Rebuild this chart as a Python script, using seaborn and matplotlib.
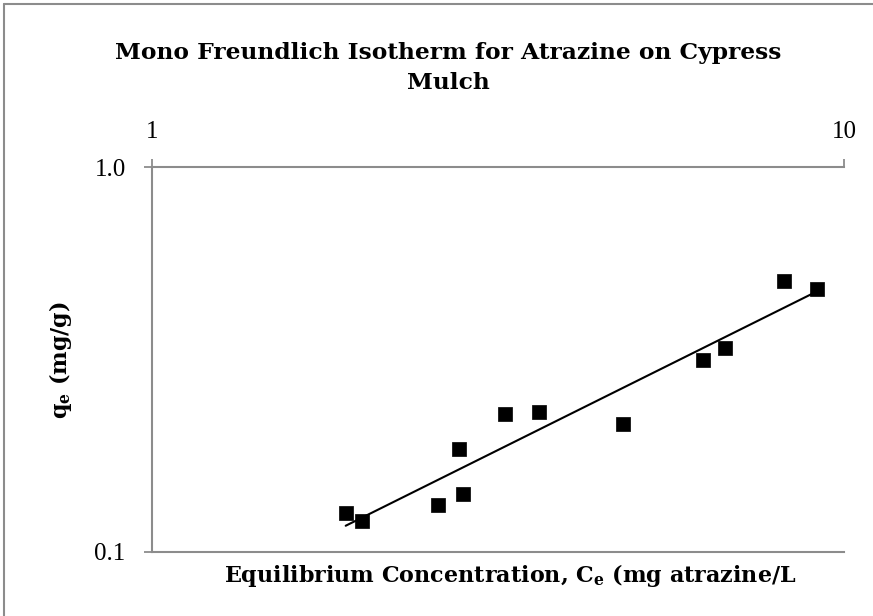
import numpy as np
import pandas as pd
import matplotlib
matplotlib.use("Agg")
import matplotlib.pyplot as plt
import seaborn as sns
from matplotlib.lines import Line2D

# ---- data ----
ce = [1.905, 2.010, 2.593, 2.818, 2.777, 3.234, 3.625, 4.798, 6.261, 6.724, 8.190, 9.141]
qe = [0.1265, 0.1206, 0.1327, 0.1415, 0.1855, 0.2287, 0.2311, 0.2150, 0.3152, 0.3388, 0.5066, 0.4822]
x_ticks = [1, 10]
x_ticklabels = ["1", "10"]
y_ticks = [0.1, 1.0]
y_ticklabels = ["0.1", "1.0"]

title_line1 = "Mono Freundlich Isotherm for Atrazine on Cypress"
title_line2 = "Mulch"
xlabel = "Equilibrium Concentration, C$_\\mathregular{e}$ (mg atrazine/L"
ylabel = "q$_\\mathregular{e}$ (mg/g)"

df = pd.DataFrame({"Ce": ce, "qe": qe})

# power-law (Freundlich) trendline fitted to the data
slope, intercept = np.polyfit(np.log10(df["Ce"]), np.log10(df["qe"]), 1)
fit_x = np.array([df["Ce"].min(), df["Ce"].max()])
fit_df = pd.DataFrame({"Ce": fit_x, "qe": 10 ** (intercept + slope * np.log10(fit_x))})

sns.set_theme(style="white")
plt.rcParams["font.family"] = ["Liberation Serif", "DejaVu Serif"]
plt.rcParams["mathtext.fontset"] = "custom"
plt.rcParams["mathtext.rm"] = "DejaVu Serif:bold"

fig = plt.figure(figsize=(8.73, 6.16), dpi=100)
ax = fig.add_axes([152 / 873, (616 - 552) / 616, 692 / 873, 385 / 616])

ax.set_xscale("log")
ax.set_yscale("log")

sns.lineplot(data=fit_df, x="Ce", y="qe", ax=ax, color="black", linewidth=1.5, zorder=2)
sns.scatterplot(data=df, x="Ce", y="qe", ax=ax, marker="s", s=115, color="black",
                edgecolor="black", linewidth=0.5, zorder=3)

ax.set_xlim(1, 10)
ax.set_ylim(0.1, 1.0)

grey = "#8c8c8c"
ax.xaxis.set_ticks_position("top")
ax.set_xticks(x_ticks)
ax.set_xticklabels(x_ticklabels)
ax.set_yticks(y_ticks)
ax.set_yticklabels(y_ticklabels)
ax.minorticks_off()
ax.tick_params(axis="x", which="major", direction="out", length=6, width=1.3, color=grey,
               pad=11, labelsize=18, labelcolor="black", top=True, bottom=False)
ax.tick_params(axis="y", which="major", direction="out", length=6, width=1.3, color=grey,
               pad=13, labelsize=18, labelcolor="black", left=True)

for side in ["top", "left", "bottom"]:
    ax.spines[side].set_visible(True)
    ax.spines[side].set_color(grey)
    ax.spines[side].set_linewidth(1.5)
ax.spines["right"].set_visible(False)

ax.set_xlabel("")
ax.set_ylabel("")

bold_serif = dict(family=["DejaVu Serif"], fontweight="bold", color="black")
fig.text(448 / 873, 1 - 59 / 616, title_line1, ha="center", va="baseline", fontsize=16.8,
         **bold_serif)
fig.text(448 / 873, 1 - 89 / 616, title_line2, ha="center", va="baseline", fontsize=16.8,
         **bold_serif)
fig.text(510 / 873, 1 - 582 / 616, xlabel, ha="center", va="baseline", fontsize=16,
         **bold_serif)
fig.text(60 / 873, 1 - 360 / 616, ylabel, ha="center", va="center", fontsize=16,
         rotation=90, **bold_serif)

# figure frame (left and top edges visible in the reference)
fig.add_artist(Line2D([4 / 873, 4 / 873], [0, 1 - 4 / 616], transform=fig.transFigure,
                      color=grey, linewidth=1.5))
fig.add_artist(Line2D([4 / 873, 1], [1 - 4 / 616, 1 - 4 / 616], transform=fig.transFigure,
                      color=grey, linewidth=1.5))

fig.savefig("out.png", dpi=100)
